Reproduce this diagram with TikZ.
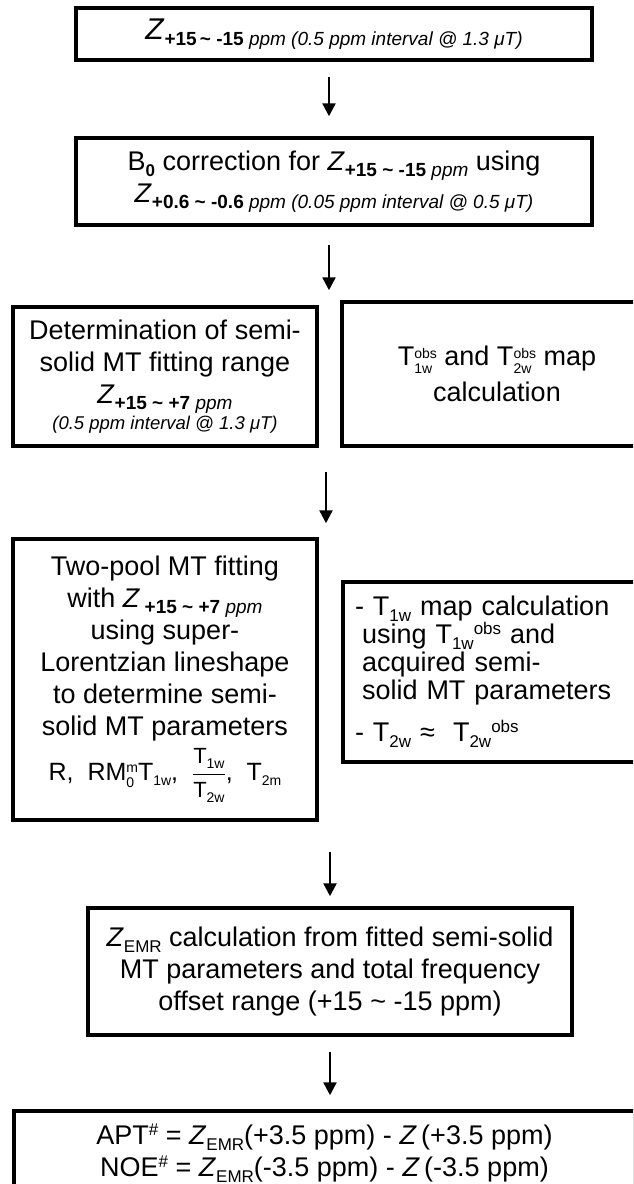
\documentclass[tikz,border=0pt]{standalone}
\usepackage{fontspec}
\setmainfont{Liberation Sans}
\usepackage{amsmath}
\usetikzlibrary{arrows.meta}
\newcommand{\fs}[1]{\fontsize{#1}{#1}\selectfont}
\newcommand{\lo}[1]{\raisebox{-6pt}{\fs{17}#1}}
\newcommand{\lob}[1]{\raisebox{-6pt}{\fs{19}#1}}
\newcommand{\los}[1]{\raisebox{-5pt}{\fs{14}#1}}
\newcommand{\supsub}[3]{\raisebox{-#3}{\fs{14}\begin{tabular}[b]{@{}l@{}}#1\\[1pt]#2\end{tabular}}}
\tikzset{
  box/.style={draw, line width=3.5pt, align=center, inner sep=0pt,
    font=\fontsize{27}{32}\selectfont},
  arr/.style={line width=2.4pt, -{Triangle[width=13pt,length=13pt]}}
}
\begin{document}
\begin{tikzpicture}[x=1pt,y=-1pt]
\useasboundingbox (0,0) rectangle (633,1184);
\fill[white] (0,0) rectangle (633,1184);
\clip (0,0) rectangle (633,1184);

\node[box, minimum width=516pt, minimum height=52pt] (b1) at (334,34)
  {{\fs{30}\textit{Z}}\lob{\textbf{+15\,\textasciitilde\ -15} \textit{ppm (0.5 ppm interval @ 1.3 μT)}}};

\node[box, minimum width=516pt, minimum height=87pt] (b2) at (334,181.5)
  {B\lo{\textbf{0}} correction for \textit{Z}\lob{\textbf{+15 \textasciitilde\ -15} \textit{ppm}} using\\
   \textit{Z}\lob{\textbf{+0.6 \textasciitilde\ -0.6} \textit{ppm (0.05 ppm interval @ 0.5 μT)}}};

\node[box, minimum width=304pt, minimum height=139pt] (b3l) at (165,376.5)
  {Determination of semi-\\solid MT fitting range\\
   \textit{Z}\lob{\textbf{+15 \textasciitilde\ +7} \textit{ppm}}\\[-6pt]
   {\fs{18.5}\itshape (0.5 ppm interval @ 1.3 μT)}};

\node[box, minimum width=310pt, minimum height=144pt] (b3r) at (497,374)
  {T\supsub{obs}{1w}{8pt} and T\supsub{obs}{2w}{8pt} map\\[4pt]calculation};

\node[box, minimum width=304pt, minimum height=281pt] (b4l) at (165,679.5)
  {Two-pool MT fitting\\
   with \textit{Z}\,\lob{\textbf{+15 \textasciitilde\ +7} \textit{ppm}}\\
   using super-\\Lorentzian lineshape\\to determine semi-\\solid MT parameters\\[6pt]
   {\fs{25}R,\ \ RM\supsub{m}{0}{7pt}T\los{1w}, \ $\genfrac{}{}{1pt}{0}{\text{\fs{22}T\los{1w}}}{\text{\fs{22}T\los{2w}}}$, \ T\los{2m}}};

\node[box, align=left, text width=284pt, inner xsep=12pt, minimum height=180pt,
  font=\fontsize{27}{28}\selectfont] (b4r) at (497,672)
  {- T\lo{1w} map calculation\\
   \hspace*{7pt}using T\lo{1w}\raisebox{9pt}{\fs{17}obs} and\\
   \hspace*{7pt}acquired semi-\\
   \hspace*{7pt}solid MT parameters\\[14pt]
   - T\lo{2w} ≈\ \ T\lo{2w}\raisebox{9pt}{\fs{17}obs}};

\node[box, minimum width=484pt, minimum height=127pt] (b5) at (330,971.5)
  {\textit{Z}\lo{EMR} calculation from fitted semi-solid\\
   MT parameters and total frequency\\
   offset range (+15 \textasciitilde\ -15 ppm)};

\node[box, minimum width=621pt, minimum height=84pt] (b6) at (324.5,1153)
  {APT\raisebox{9pt}{\fs{17}\#} = \textit{Z}\lo{EMR}(+3.5 ppm) - \textit{Z}\,(+3.5 ppm)\\
   NOE\raisebox{9pt}{\fs{17}\#} = \textit{Z}\lo{EMR}(-3.5 ppm) - \textit{Z}\,(-3.5 ppm)};

\coordinate (ax1) at (329,0);
\coordinate (ax3) at (326,0);
\coordinate (ax4) at (330,0);
\draw[arr, shorten <=15pt, shorten >=20pt] (b1.south -| ax1) -- (b2.north -| ax1);
\draw[arr, shorten <=18pt, shorten >=15pt] (b2.south -| ax1) -- (b3l.north -| ax1);
\draw[arr, shorten <=24pt, shorten >=14pt] (b3l.south -| ax3) -- (b4l.north -| ax3);
\draw[arr, shorten <=30pt, shorten >=10pt] (b4l.south -| ax4) -- (b5.north -| ax4);
\draw[arr, shorten <=15pt, shorten >=14pt] (b5.south -| ax4) -- (b6.north -| ax4);
\end{tikzpicture}
\end{document}
